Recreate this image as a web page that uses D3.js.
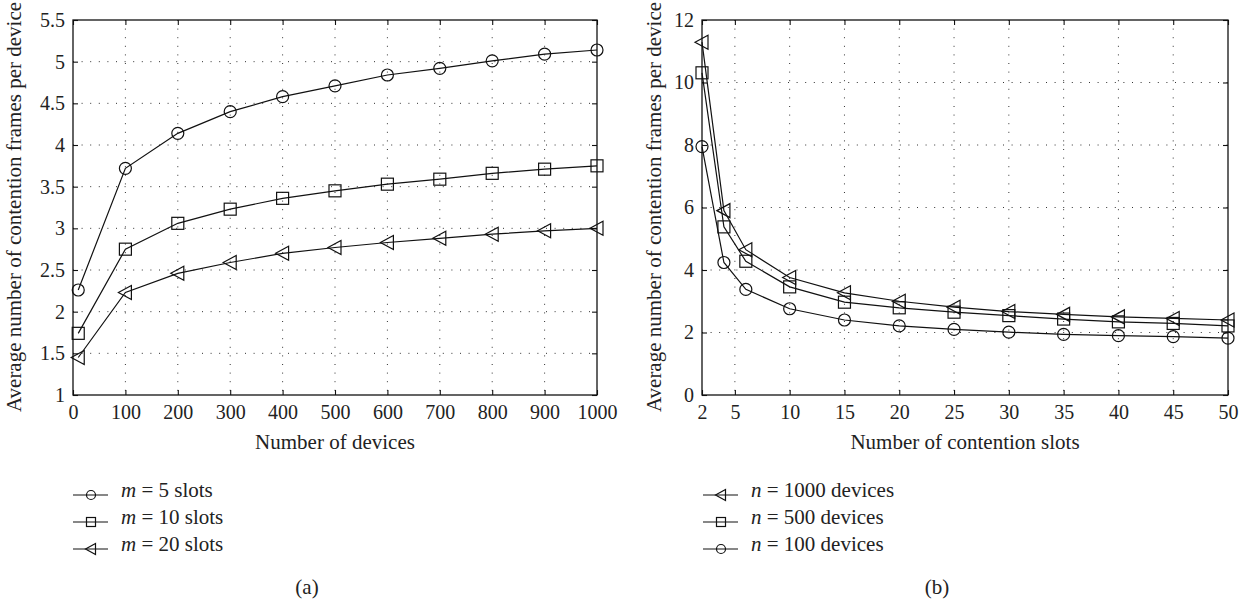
<!DOCTYPE html>
<html lang="en">
<head>
<meta charset="UTF-8" />
<title>Contention frames</title>
<script src="https://d3js.org/d3.v7.min.js"></script>
<style>
    body { margin: 0; background: #fff; }
    svg text { font-family: "Liberation Serif", "DejaVu Serif", serif; fill: #222; }
</style>
</head>
<body>
<script>
    // panel (a): number of devices
    var devices = [10, 100, 200, 300, 400, 500, 600, 700, 800, 900, 1000];
    var m5 = [2.26, 3.72, 4.14, 4.40, 4.58, 4.71, 4.84, 4.92, 5.01, 5.09, 5.14];
    var m10 = [1.74, 2.75, 3.06, 3.23, 3.36, 3.45, 3.53, 3.59, 3.66, 3.71, 3.75];
    var m20 = [1.45, 2.23, 2.46, 2.59, 2.70, 2.77, 2.83, 2.88, 2.93, 2.97, 3.00];
    var devTicks = [0, 100, 200, 300, 400, 500, 600, 700, 800, 900, 1000];
    var devYTicks = [1, 1.5, 2, 2.5, 3, 3.5, 4, 4.5, 5, 5.5];

    // panel (b): number of contention slots
    var slots = [2, 4, 6, 10, 15, 20, 25, 30, 35, 40, 45, 50];
    var n1000 = [11.29, 5.9, 4.65, 3.76, 3.27, 3.00, 2.81, 2.67, 2.58, 2.50, 2.45, 2.40];
    var n500 = [10.31, 5.38, 4.28, 3.46, 2.97, 2.79, 2.65, 2.54, 2.43, 2.34, 2.29, 2.21];
    var n100 = [7.95, 4.24, 3.38, 2.76, 2.40, 2.21, 2.10, 2.01, 1.94, 1.90, 1.87, 1.82];
    var slotTicks = [2, 5, 10, 15, 20, 25, 30, 35, 40, 45, 50];
    var slotYTicks = [0, 2, 4, 6, 8, 10, 12];

    var yTitle = "Average number of contention frames per device";

    var svg = d3.select("body").append("svg")
        .attr("width", 1251)
        .attr("height", 602);

    // hollow markers, s = half size
    function marker(g, shape, x, y, s) {
        if (shape == "circle") {
            g.append("circle").attr("cx", x).attr("cy", y).attr("r", s);
        } else if (shape == "square") {
            g.append("rect").attr("x", x - s).attr("y", y - s).attr("width", 2 * s).attr("height", 2 * s);
        } else {
            g.append("path").attr("d", "M" + (x - s - 1) + "," + y + "L" + (x + s) + "," + (y - s - 1) + "L" + (x + s) + "," + (y + s + 1) + "Z");
        }
    }

    function drawPanel(p) {
        var g = svg.append("g");
        var x = d3.scaleLinear().domain(p.xDomain).range([p.left, p.right]);
        var y = d3.scaleLinear().domain(p.yDomain).range([395, 20]);

        // dotted grid
        var grid = g.append("g")
            .attr("stroke", "#333")
            .attr("stroke-width", 1)
            .attr("stroke-dasharray", "1,7.6");
        grid.selectAll(".vg")
            .data(p.xTicks.slice(1, -1))
            .enter().append("line")
            .attr("x1", function(d) { return x(d); })
            .attr("x2", function(d) { return x(d); })
            .attr("y1", 20).attr("y2", 395);
        grid.selectAll(".hg")
            .data(p.yTicks.slice(1, -1))
            .enter().append("line")
            .attr("y1", function(d) { return y(d); })
            .attr("y2", function(d) { return y(d); })
            .attr("x1", p.left).attr("x2", p.right);

        // axes with inward ticks on all four sides
        var fmt = function(d) { return String(d); };
        g.append("g").attr("transform", "translate(0,395)")
            .call(d3.axisBottom(x).tickValues(p.xTicks).tickSizeInner(-5).tickSizeOuter(0).tickPadding(10).tickFormat(fmt));
        g.append("g").attr("transform", "translate(0,20)")
            .call(d3.axisTop(x).tickValues(p.xTicks).tickSizeInner(-5).tickSizeOuter(0).tickFormat(""));
        g.append("g").attr("transform", "translate(" + p.left + ",0)")
            .call(d3.axisLeft(y).tickValues(p.yTicks).tickSizeInner(-5).tickSizeOuter(0).tickPadding(8).tickFormat(fmt));
        g.append("g").attr("transform", "translate(" + p.right + ",0)")
            .call(d3.axisRight(y).tickValues(p.yTicks).tickSizeInner(-5).tickSizeOuter(0).tickFormat(""));
        g.selectAll(".domain").remove();
        g.selectAll(".tick line").attr("stroke", "#111").attr("stroke-width", 1.1);
        g.selectAll(".tick text").attr("font-size", 20).attr("fill", "#222")
            .attr("font-family", "Liberation Serif");

        g.append("rect")
            .attr("x", p.left).attr("y", 20)
            .attr("width", p.right - p.left).attr("height", 375)
            .attr("fill", "none").attr("stroke", "#111").attr("stroke-width", 1.3);

        // series
        var line = d3.line()
            .x(function(d) { return x(d[0]); })
            .y(function(d) { return y(d[1]); });
        p.series.forEach(function(s) {
            var pts = p.xs.map(function(v, i) { return [v, s.values[i]]; });
            var sg = g.append("g").attr("fill", "none").attr("stroke", "#111").attr("stroke-width", 1.2);
            sg.append("path").attr("d", line(pts));
            pts.forEach(function(d) { marker(sg, s.shape, x(d[0]), y(d[1]), 6); });
        });

        // titles
        g.append("text")
            .attr("x", (p.left + p.right) / 2).attr("y", 449)
            .attr("text-anchor", "middle").attr("font-size", 21)
            .text(p.xTitle);
        g.append("text")
            .attr("transform", "translate(" + (p.left - p.yTitleOff) + ",207) rotate(-90)")
            .attr("text-anchor", "middle").attr("font-size", 21)
            .text(yTitle);

        // legend
        p.series.forEach(function(s, i) {
            var ly = 497 + i * 27;
            var lg = g.append("g").attr("fill", "none").attr("stroke", "#111").attr("stroke-width", 1.2);
            lg.append("line").attr("x1", p.legendX).attr("x2", p.legendX + 35).attr("y1", ly - 2).attr("y2", ly - 2);
            marker(lg, s.shape, p.legendX + 18, ly - 2, 4.5);
            var t = g.append("text").attr("x", p.legendX + 48).attr("y", ly).attr("font-size", 21);
            t.append("tspan").attr("font-style", "italic").text(s.sym);
            t.append("tspan").text(" = " + s.label);
        });

        g.append("text")
            .attr("x", (p.left + p.right) / 2 - 28).attr("y", 594)
            .attr("text-anchor", "middle").attr("font-size", 21)
            .text(p.cap);
    }

    drawPanel({
        left: 73, right: 597,
        xDomain: [0, 1000], yDomain: [1, 5.5],
        xTicks: devTicks, yTicks: devYTicks,
        xs: devices,
        series: [
            { values: m5, shape: "circle", sym: "m", label: "5 slots" },
            { values: m10, shape: "square", sym: "m", label: "10 slots" },
            { values: m20, shape: "triangle", sym: "m", label: "20 slots" }
        ],
        xTitle: "Number of devices",
        yTitleOff: 52,
        legendX: 73, cap: "(a)"
    });

    drawPanel({
        left: 702, right: 1228,
        xDomain: [2, 50], yDomain: [0, 12],
        xTicks: slotTicks, yTicks: slotYTicks,
        xs: slots,
        series: [
            { values: n1000, shape: "triangle", sym: "n", label: "1000 devices" },
            { values: n500, shape: "square", sym: "n", label: "500 devices" },
            { values: n100, shape: "circle", sym: "n", label: "100 devices" }
        ],
        xTitle: "Number of contention slots",
        yTitleOff: 41,
        legendX: 703, cap: "(b)"
    });
</script>
</body>
</html>
